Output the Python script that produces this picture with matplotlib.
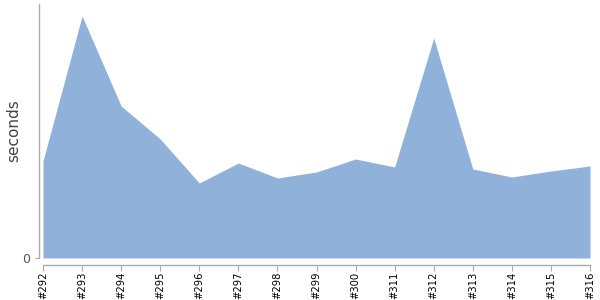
import matplotlib
matplotlib.use("Agg")
import matplotlib.pyplot as plt

# build labels and durations (arbitrary units)
builds = ["#292", "#293", "#294", "#295", "#296", "#297", "#298", "#299",
          "#300", "#311", "#312", "#313", "#314", "#315", "#316"]
durations = [97, 242, 152, 119, 75, 95, 80, 86, 99, 91, 220, 89, 81, 87, 92]

fig = plt.figure(figsize=(6, 3), dpi=100)
ax = fig.add_axes([43 / 600, 1 - 258 / 300, 547 / 600, 254 / 300])

x = list(range(len(builds)))
ax.fill_between(x, durations, 0, color="#8fb1da", linewidth=0)

ax.set_xlim(0, len(builds) - 1)
ax.set_ylim(0, 254)

for side in ("top", "right"):
    ax.spines[side].set_visible(False)
ax.spines["left"].set_position(("outward", 3))
ax.spines["bottom"].set_position(("outward", 5))
for side in ("left", "bottom"):
    ax.spines[side].set_color("#aaaaaa")
    ax.spines[side].set_linewidth(1)
ax.tick_params(axis="x", length=4, color="#aaaaaa", pad=1,
               labelrotation=90, labelsize=7.2, labelcolor="black")
ax.tick_params(axis="y", length=3, color="#aaaaaa", pad=3,
               labelsize=9, labelcolor="#555555")

ax.set_xticks(x, builds)
ax.set_yticks([0], ["0"])
ax.set_ylabel("seconds", fontsize=11, color="#444444")
# place the axis title at about x = 13 px from the left edge
ax.yaxis.set_label_coords(-22 / 547, 0.5)

fig.savefig("out.png", dpi=100)
plt.close(fig)
